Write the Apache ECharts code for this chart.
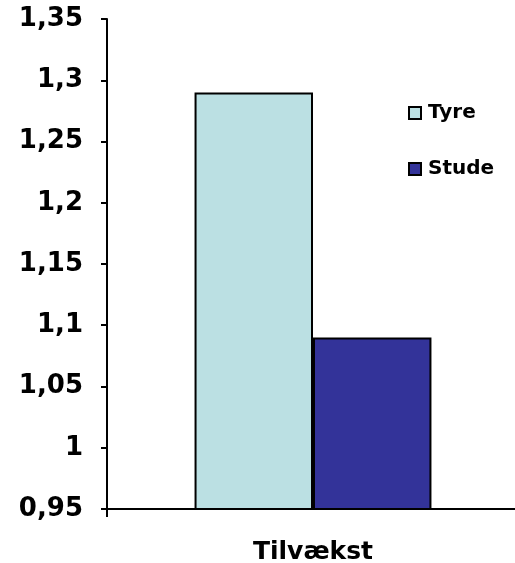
<!DOCTYPE html>
<html>
<head>
<meta charset="utf-8">
<title>Tilvækst</title>
<script src="https://cdn.jsdelivr.net/npm/echarts@6/dist/echarts.min.js"></script>
<style>
	html,body{margin:0;padding:0;background:#fff;}
	#chart{width:515px;height:563px;}
</style>
</head>
<body>
<div id="chart"></div>
<script>
	// data
	var categories=['Tilvækst'];
	var seriesNames=['Tyre','Stude'];
	var tyre=[1.29];
	var stude=[1.09];
	var yMin=0.95, yMax=1.35, yStep=0.05;

	var font='"DejaVu Sans", Verdana, sans-serif';

	// 0,95 / 1 / 1,1 ...
	function fmt(v){
		return String(parseFloat(v.toFixed(2))).replace('.',',');
	}

	var chart=echarts.init(document.getElementById('chart'));
	chart.setOption({
		animation:false,
		grid:{left:107,width:412,top:19,bottom:54,containLabel:false,outerBoundsMode:'none'},
		legend:{
			orient:'vertical',
			left:403,
			top:98,
			itemWidth:12,
			itemHeight:12,
			itemGap:36,
			icon:'rect',
			itemStyle:{borderColor:'#000',borderWidth:2},
			textStyle:{fontFamily:font,fontWeight:'bold',fontSize:20,lineHeight:20,color:'#000',padding:[0,0,0,2]},
			data:seriesNames
		},
		xAxis:{
			type:'category',
			data:categories,
			axisLine:{lineStyle:{color:'#000',width:2}},
			axisTick:{show:true,length:8,lineStyle:{color:'#000',width:2}},
			axisLabel:{margin:31,fontFamily:font,fontWeight:'bold',fontSize:25,color:'#000'},
			splitLine:{show:false}
		},
		yAxis:{
			type:'value',
			min:yMin,
			max:yMax,
			interval:yStep,
			axisLine:{show:true,lineStyle:{color:'#000',width:2}},
			axisTick:{show:true,length:6,lineStyle:{color:'#000',width:2}},
			axisLabel:{margin:24,formatter:fmt,fontFamily:font,fontWeight:'bold',fontSize:26,color:'#000'},
			splitLine:{show:false}
		},
		series:[{
			name:seriesNames[0],
			type:'bar',
			data:tyre,
			barGap:'0%',
			barCategoryGap:'42.5%',
			itemStyle:{color:'#BBE0E3',borderColor:'#000',borderWidth:2}
		},{
			name:seriesNames[1],
			type:'bar',
			data:stude,
			barGap:'0%',
			barCategoryGap:'42.5%',
			itemStyle:{color:'#333399',borderColor:'#000',borderWidth:2}
		}]
	});
</script>
</body>
</html>
